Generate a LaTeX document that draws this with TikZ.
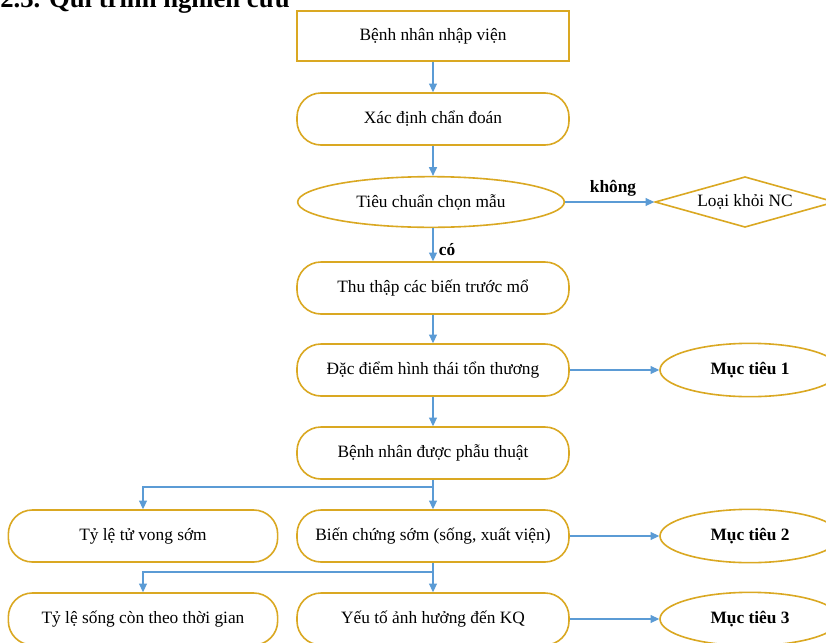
\documentclass[tikz,border=0pt]{standalone}
\usepackage{fontspec}
\setmainfont{Liberation Serif}
\usetikzlibrary{shapes.geometric,arrows.meta}
\definecolor{gold}{RGB}{218,168,34}
\definecolor{arrblue}{RGB}{91,155,213}
\begin{document}
\begin{tikzpicture}[x=0.75pt,y=-0.75pt,
  base/.style={draw=gold, line width=1.2pt, fill=white, inner sep=0pt, font=\fontsize{13}{15}\selectfont, text=black},
  sqbox/.style={base, rectangle, minimum width=204pt, minimum height=37.5pt},
  rbox/.style={base, rectangle, rounded corners=18pt, minimum width=204pt, minimum height=39pt},
  ell/.style={base, ellipse, minimum width=200pt, minimum height=38pt},
  goal/.style={base, ellipse, minimum width=135pt, minimum height=40pt, font=\bfseries\fontsize{13}{15}\selectfont},
  dia/.style={base, diamond, shape aspect=3.3, minimum width=135pt, minimum height=38pt},
  lbl/.style={font=\bfseries\fontsize{13}{15}\selectfont, inner sep=0pt},
  arr/.style={draw=arrblue, line width=0.9pt, -{Triangle[length=6.5pt,width=6pt]}},
]
\useasboundingbox (0,0) rectangle (826,643);
\clip (0,0) rectangle (826,643);

\node[anchor=base west, inner sep=0pt, font=\bfseries\fontsize{20}{24}\selectfont] (title) at (0,7) {2.3. Qui trình nghiên cứu};

\node[sqbox] (b1) at (433,36) {Bệnh nhân nhập viện};
\node[rbox] (b2) at (433,119) {Xác định chẩn đoán};
\node[ell] (e1) at (431,202) {Tiêu chuẩn chọn mẫu};
\node[dia] (d1) at (745,202) {Loại khỏi NC};
\node[rbox] (b4) at (433,288) {Thu thập các biến trước mổ};
\node[rbox] (b5) at (433,370) {Đặc điểm hình thái tổn thương};
\node[goal] (g1) at (750,370) {Mục tiêu 1};
\node[rbox] (b6) at (433,453) {Bệnh nhân được phẫu thuật};
\node[rbox, minimum width=202pt] (b7) at (143,536) {Tỷ lệ tử vong sớm};
\node[rbox] (b8) at (433,536) {Biến chứng sớm (sống, xuất viện)};
\node[goal] (g2) at (750,536) {Mục tiêu 2};
\node[rbox, minimum width=202pt] (b9) at (143,619) {Tỷ lệ sống còn theo thời gian};
\node[rbox] (b10) at (433,619) {Yếu tố ảnh hưởng đến KQ};
\node[goal] (g3) at (750,619) {Mục tiêu 3};

\node[lbl] (kh) at (613,188) {không};
\node[lbl] (co) at (447,250) {có};

\coordinate (j1) at (433,487);
\coordinate (j2) at (433,572);

\draw[arr] (b1) -- (b2);
\draw[arr] (b2) -- (b4.north |- e1.north);
\draw[arr] (e1.south -| b4.north) -- (b4);
\draw[arr] (e1.east) -- (d1.west);
\draw[arr] (b4) -- (b5);
\draw[arr] (b5) -- (b6);
\draw[arr] (b5.east) -- (g1.west);
\draw[arr] (b6) -- (b8);
\draw[arr] (j1) -| (b7.north);
\draw[arr] (b8.east) -- (g2.west);
\draw[arr] (b8) -- (b10);
\draw[arr] (j2) -| (b9.north);
\draw[arr] (b10.east) -- (g3.west);
\end{tikzpicture}
\end{document}
